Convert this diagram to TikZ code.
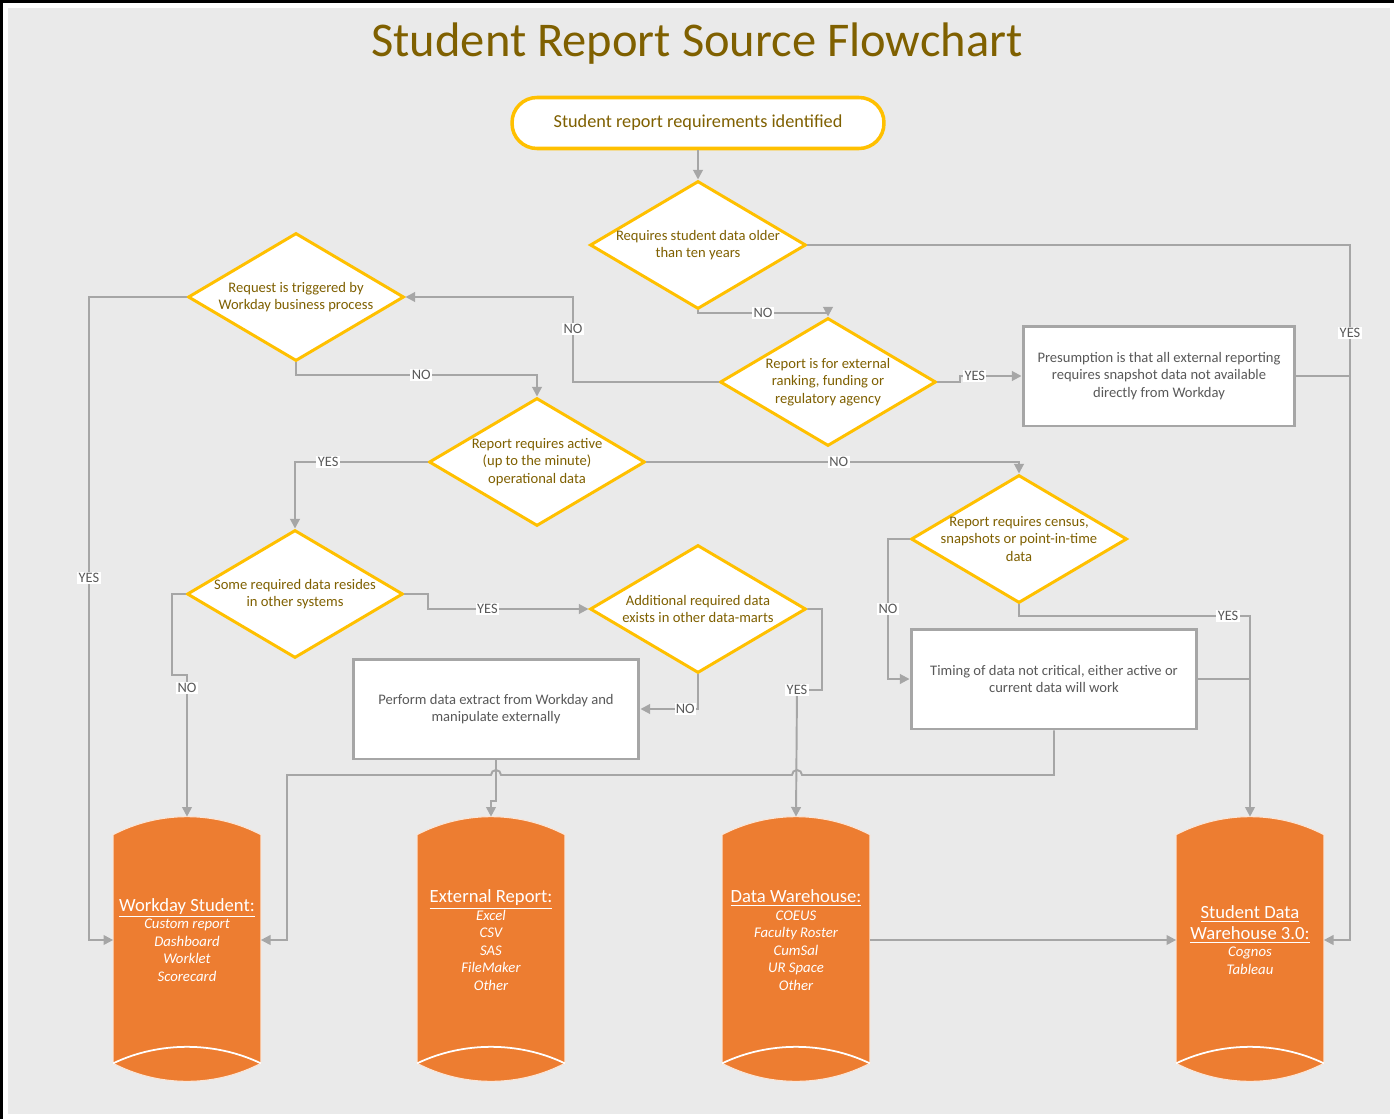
\documentclass[tikz,border=0pt]{standalone}
\usepackage{fontspec}
\setmainfont{Carlito}
\usepackage{tikz}
\usetikzlibrary{arrows.meta, positioning, shapes.geometric, calc}

\definecolor{pagegray}{HTML}{EAEAEA}
\definecolor{chartgold}{HTML}{FFC000}
\definecolor{chartbrown}{HTML}{7F6000}
\definecolor{linegray}{HTML}{A6A6A6}
\definecolor{boxtext}{HTML}{595959}
\definecolor{storeorange}{HTML}{ED7D31}
\definecolor{storeedge}{HTML}{FBE5D6}

\pgfdeclarelayer{background}
\pgfsetlayers{background,main}

\tikzset{
  title/.style={text=chartbrown, font=\fontsize{27.6}{30}\selectfont},
  terminal/.style={rectangle, rounded corners=0.5cm, draw=chartgold, line width=2pt, fill=white,
    minimum width=7.44cm, minimum height=1.02cm, text=chartbrown, font=\fontsize{10.4}{12}\selectfont},
  decision/.style={diamond, draw=chartgold, line width=1.7pt, fill=white,
    minimum width=4.32cm, minimum height=2.56cm, inner sep=0pt},
  dtext/.style={text=chartbrown, align=center, font=\fontsize{8.3}{9.9}\selectfont},
  process/.style={rectangle, draw=linegray, line width=1.7pt, fill=white, minimum height=2cm,
    align=center, text=boxtext, font=\fontsize{8.3}{9.9}\selectfont},
  store/.style={rectangle, minimum width=2.94cm, minimum height=4.92cm, inner sep=0pt,
    align=center, text=white, font=\fontsize{8.4}{10}\selectfont\itshape},
  conn/.style={draw=linegray, line width=1.1pt, -{Triangle[length=5.5pt,width=5.5pt]}},
  plain/.style={draw=linegray, line width=1.1pt},
  lbl/.style={fill=white, text=boxtext, inner sep=0.8pt, font=\fontsize{8.2}{8.5}\selectfont}
}
\newcommand{\storehead}[1]{{\upshape\fontsize{10.6}{12}\selectfont\underline{#1}}}

\begin{document}
\begin{tikzpicture}[x=0.02cm, y=-0.02cm]
\useasboundingbox (0,0) rectangle (1394,1119);

\node[title] (ttl) at (697,44) {Student Report Source Flowchart};
\node[terminal] (start) at (698,123) {Student report requirements identified};

\node[decision, label={[dtext]center:{Requires student data older\\than ten years}}] (older) at (698,245) {};
\node[decision, label={[dtext]center:{Request is triggered by\\Workday business process}}] (trigger) at (296,297) {};
\node[decision, label={[dtext]center:{Report is for external\\ranking, funding or\\regulatory agency}}] (external) at (828,382) {};
\node[decision, label={[dtext]center:{Report requires active\\(up to the minute)\\operational data}}] (active) at (537,462) {};
\node[decision, label={[dtext]center:{Report requires census,\\snapshots or point-in-time\\data}}] (census) at (1019,539) {};
\node[decision, label={[dtext]center:{Some required data resides\\in other systems}}] (other) at (295,594) {};
\node[decision, label={[dtext]center:{Additional required data\\exists in other data-marts}}] (marts) at (698,609) {};

\node[process, minimum width=5.44cm] (presume) at (1159,376) {Presumption is that all external reporting\\requires snapshot data not available\\directly from Workday};
\node[process, minimum width=5.72cm] (timing) at (1054,679) {Timing of data not critical, either active or\\current data will work};
\node[process, minimum width=5.72cm] (extract) at (496,709) {Perform data extract from Workday and\\manipulate externally};

\node[store] (wd) at (187,940) {\storehead{Workday Student:}\\Custom report\\Dashboard\\Worklet\\Scorecard};
\node[store] (ext) at (491,940) {\storehead{External Report:}\\Excel\\CSV\\SAS\\FileMaker\\Other};
\node[store] (dw) at (796,940) {\storehead{Data Warehouse:}\\COEUS\\Faculty Roster\\CumSal\\UR Space\\Other};
\node[store] (sdw) at (1250,940) {\storehead{Student Data}\\[2pt]\storehead{Warehouse 3.0:}\\Cognos\\Tableau};

\draw[conn] (start) -- (older);
\draw[conn] (older.east) -- (1350,245) -- node[lbl, pos=0.127]{YES} (1350,940) -- (sdw.east);
\draw[conn] (older.south) -- (698,313) -- node[lbl]{NO} (828,313) -- (external.north);
\draw[conn] (external.west) -- (573,382) -- node[lbl, pos=0.62]{NO} (573,297) -- (trigger.east);
\draw[conn] (external.east) -- (960,382) -- (960,376) -- node[lbl, pos=0.24]{YES} (presume.west);
\draw[plain] (presume.east) -- (1350,376);
\draw[conn] (trigger.west) -- (89,297) -- node[lbl, pos=0.437]{YES} (89,940) -- (wd.west);
\draw[conn] (trigger.south) -- (296,375) -- node[lbl, pos=0.52]{NO} (537,375) -- (active.north);
\draw[conn] (active.west) -- node[lbl, pos=0.75]{YES} (295,462) -- (other.north);
\draw[conn] (active.east) -- node[lbl, pos=0.516]{NO} (1019,462) -- (census.north);
\draw[conn] (census.west) -- (888,539) -- node[lbl]{NO} (888,679) -- (timing.west);
\draw[conn] (census.south) -- (1019,616) -- node[lbl, pos=0.905]{YES} (1250,616) -- (sdw.north);
\draw[plain] (timing.east) -- (1250,679);
\draw[conn] (other.east) -- (428,594) -- (428,609) -- node[lbl, pos=0.37]{YES} (marts.west);
\draw[conn] (other.west) -- (172,594) -- (172,675) -- (187,675) -- node[lbl, pos=0.09]{NO} (wd.north);
\draw[conn] (marts.south) -- (698,709) -- node[lbl, pos=0.22]{NO} (extract.east);
\draw[conn] (marts.east) -- (822,609) -- (822,690) -- (797,690) node[lbl]{YES} -- (dw.north);
\draw[conn] (extract.south) -- (496,801) -- (491,801) -- (ext.north);
\draw[conn] (timing.south) -- (1054,775) -- (802,775) arc[start angle=0, end angle=180, radius=0.1cm]
  -- (501,775) arc[start angle=0, end angle=180, radius=0.1cm] -- (287,775) -- (287,940) -- (wd.east);
\draw[conn] (dw.east) -- (sdw.west);

\begin{pgfonlayer}{background}
\fill[white] (0,0) rectangle (1394,1119);
\fill[pagegray] (8,8) rectangle (1390,1114);
\draw[black, line width=1.7pt] (1.5,1119) -- (1.5,1.5) -- (1394,1.5);
\foreach \cyl in {wd,ext,dw,sdw}{
  \filldraw[fill=storeorange, draw=storeedge, line width=0.6pt]
    ($(\cyl.north west)+(0,18)$) .. controls +(46,-24) and +(-46,-24) .. ($(\cyl.north east)+(0,18)$)
    -- (\cyl.south east) .. controls +(-46,24) and +(46,24) .. (\cyl.south west) -- cycle;
  \draw[white, line width=1pt] (\cyl.south west) .. controls +(46,-22) and +(-46,-22) .. (\cyl.south east);
}
\end{pgfonlayer}
\end{tikzpicture}
\end{document}
